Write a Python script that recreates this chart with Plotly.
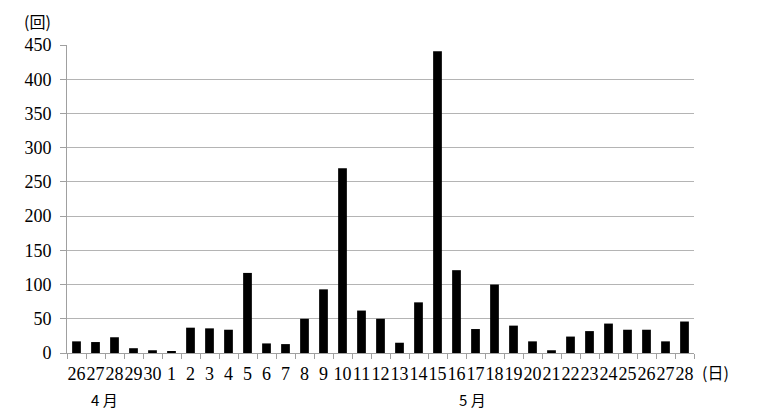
import plotly.graph_objects as go

months = ["4"] * 5 + ["5"] * 28
days = ["26", "27", "28", "29", "30"] + [str(d) for d in range(1, 29)]
counts = [17, 16, 23, 7, 4,
          2, 37, 36, 34, 117, 14, 13, 50, 93, 270,
          62, 50, 15, 74, 441, 121, 35, 100, 40, 17,
          4, 24, 32, 43, 34, 34, 17, 46]

cats = [f"{m}/{d}" for m, d in zip(months, days)]

font = dict(family="Liberation Serif", size=18, color="black")

fig = go.Figure()
fig.add_trace(go.Bar(x=cats, y=counts, marker=dict(color="black", line=dict(width=0)),
                     width=0.46))

fig.update_layout(
    width=774, height=413,
    margin=dict(l=67, r=80, t=45, b=60),
    plot_bgcolor="white", paper_bgcolor="white",
    showlegend=False,
    font=font,
)
fig.update_xaxes(
    type="category", tickmode="array", tickvals=cats, ticktext=days,
    tickson="boundaries", ticks="outside", ticklen=5, tickcolor="#a0a0a0",
    showline=True, linecolor="#a0a0a0", linewidth=1, ticklabelstandoff=4,
    showgrid=False, tickangle=0, tickfont=font, range=[-0.5, 32.5],
)
fig.update_yaxes(
    range=[0, 450], dtick=50, ticks="outside", ticklen=6, tickcolor="#a0a0a0",
    showline=True, linecolor="#a0a0a0", linewidth=1, ticklabelstandoff=5,
    showgrid=True, gridcolor="#b4b4b4", gridwidth=1, zeroline=False,
    tickfont=font,
)

ann_font = dict(family="Noto Sans CJK JP", size=16, color="black")
fig.add_annotation(text="(回)", xref="paper", yref="paper", x=(37 - 67) / 627, y=(353 - 21) / 308,
                   xanchor="center", yanchor="middle", showarrow=False, font=ann_font)
fig.add_annotation(text="(日)", xref="paper", yref="paper", x=(700 - 67) / 627, y=-(372 - 353) / 308,
                   xanchor="left", yanchor="middle", showarrow=False, font=ann_font)
fig.add_annotation(text="4 月", xref="paper", yref="paper", x=(104 - 67) / 627, y=-(399 - 353) / 308,
                   xanchor="center", yanchor="middle", showarrow=False, font=dict(ann_font, size=15))
fig.add_annotation(text="5 月", xref="paper", yref="paper", x=(472 - 67) / 627, y=-(399 - 353) / 308,
                   xanchor="center", yanchor="middle", showarrow=False, font=dict(ann_font, size=15))

fig.write_html("out.html", config={"displayModeBar": False},
               post_script="document.body.style.margin='0';")
